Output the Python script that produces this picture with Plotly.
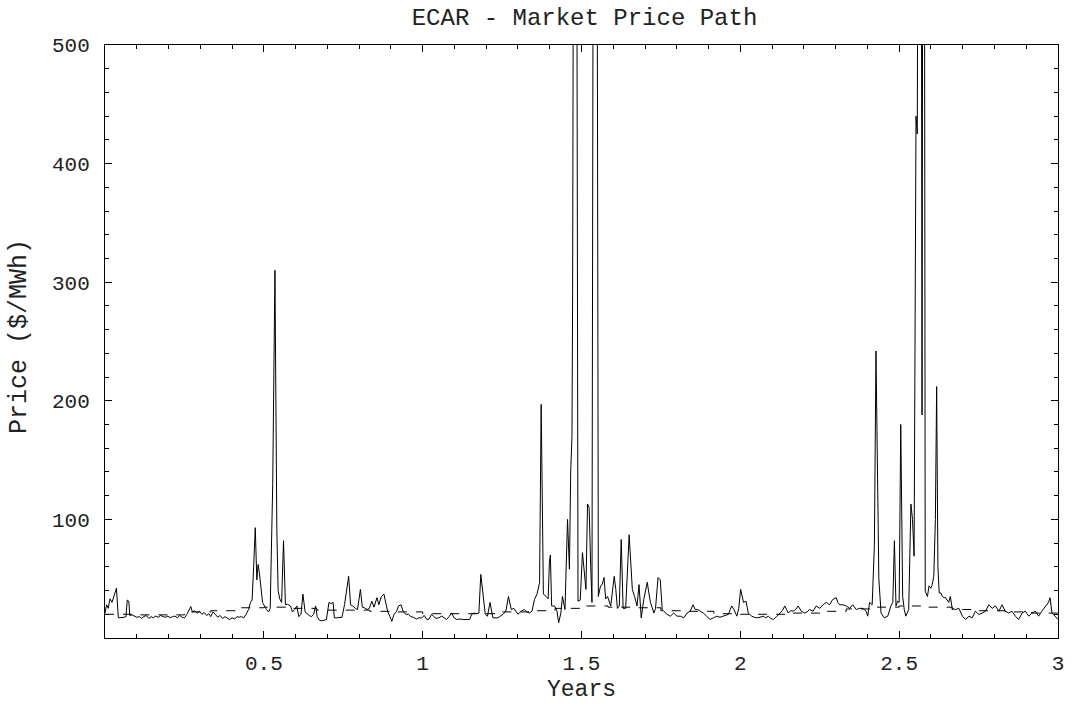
import plotly.graph_objects as go

# ---- data (time in years, price in $/MWh) ----
t_years = [
    0.000, 0.005, 0.010, 0.016, 0.022, 0.030, 0.036, 0.042, 0.050, 0.060, 0.066, 0.070, 0.075, 0.078, 0.085,
    0.093, 0.100, 0.108, 0.115, 0.122, 0.130, 0.138, 0.145, 0.152, 0.160, 0.168, 0.175, 0.183, 0.190, 0.198,
    0.205, 0.213, 0.220, 0.228, 0.235, 0.243, 0.250, 0.258, 0.265, 0.270, 0.275, 0.283, 0.290, 0.297, 0.305,
    0.312, 0.320, 0.327, 0.333, 0.340, 0.347, 0.355, 0.362, 0.370, 0.378, 0.385, 0.392, 0.400, 0.408, 0.415,
    0.422, 0.430, 0.437, 0.444, 0.452, 0.458, 0.463, 0.468, 0.473, 0.478, 0.482, 0.486, 0.490, 0.496, 0.502,
    0.508, 0.515, 0.520, 0.528, 0.535, 0.541, 0.545, 0.550, 0.556, 0.562, 0.568, 0.575, 0.584, 0.590, 0.597,
    0.604, 0.610, 0.617, 0.623, 0.630, 0.637, 0.643, 0.650, 0.657, 0.663, 0.668, 0.675, 0.682, 0.690, 0.697,
    0.705, 0.712, 0.718, 0.722, 0.730, 0.738, 0.746, 0.754, 0.762, 0.767, 0.773, 0.780, 0.788, 0.795, 0.804,
    0.810, 0.817, 0.825, 0.832, 0.840, 0.847, 0.856, 0.862, 0.870, 0.878, 0.884, 0.890, 0.897, 0.903, 0.910,
    0.918, 0.924, 0.932, 0.939, 0.947, 0.955, 0.963, 0.971, 0.980, 0.988, 0.997, 1.005, 1.013, 1.020, 1.028,
    1.035, 1.042, 1.050, 1.060, 1.068, 1.075, 1.083, 1.091, 1.099, 1.107, 1.115, 1.122, 1.130, 1.140, 1.148,
    1.154, 1.162, 1.170, 1.177, 1.183, 1.190, 1.197, 1.204, 1.212, 1.221, 1.229, 1.237, 1.245, 1.253, 1.262,
    1.270, 1.279, 1.287, 1.295, 1.300, 1.310, 1.320, 1.328, 1.336, 1.344, 1.352, 1.360, 1.368, 1.373, 1.380,
    1.389, 1.395, 1.399, 1.402, 1.406, 1.415, 1.423, 1.428, 1.435, 1.440, 1.448, 1.453, 1.456, 1.462, 1.466,
    1.470, 1.472, 1.476, 1.484, 1.489, 1.496, 1.503, 1.508, 1.514, 1.519, 1.524, 1.529, 1.533, 1.538, 1.548,
    1.553, 1.560, 1.565, 1.571, 1.576, 1.582, 1.592, 1.603, 1.608, 1.613, 1.619, 1.625, 1.631, 1.639, 1.650,
    1.660, 1.667, 1.675, 1.681, 1.688, 1.696, 1.707, 1.712, 1.717, 1.728, 1.733, 1.741, 1.748, 1.754, 1.760,
    1.769, 1.780, 1.790, 1.801, 1.811, 1.822, 1.832, 1.842, 1.851, 1.858, 1.866, 1.874, 1.884, 1.895, 1.905,
    1.915, 1.926, 1.936, 1.947, 1.955, 1.963, 1.968, 1.973, 1.980, 1.989, 1.995, 2.001, 2.010, 2.018, 2.025,
    2.036, 2.044, 2.051, 2.062, 2.072, 2.080, 2.088, 2.096, 2.104, 2.114, 2.124, 2.132, 2.140, 2.151, 2.158,
    2.166, 2.174, 2.182, 2.192, 2.203, 2.210, 2.218, 2.229, 2.239, 2.250, 2.260, 2.271, 2.281, 2.291, 2.302,
    2.307, 2.313, 2.323, 2.333, 2.344, 2.354, 2.365, 2.375, 2.386, 2.396, 2.401, 2.407, 2.415, 2.422, 2.427,
    2.432, 2.436, 2.443, 2.453, 2.464, 2.474, 2.480, 2.485, 2.490, 2.495, 2.500, 2.505, 2.511, 2.516, 2.521,
    2.530, 2.537, 2.542, 2.547, 2.553, 2.557, 2.561, 2.569, 2.572, 2.575, 2.579, 2.582, 2.589, 2.594, 2.600,
    2.604, 2.609, 2.614, 2.618, 2.622, 2.626, 2.631, 2.636, 2.641, 2.646, 2.651, 2.656, 2.661, 2.667, 2.677,
    2.688, 2.699, 2.709, 2.720, 2.730, 2.740, 2.751, 2.761, 2.772, 2.782, 2.793, 2.803, 2.814, 2.824, 2.834,
    2.845, 2.855, 2.866, 2.876, 2.887, 2.897, 2.908, 2.918, 2.929, 2.939, 2.949, 2.960, 2.970, 2.975, 2.981,
    2.991, 3.000,
]

price = [
    21, 28, 25, 33, 30, 38, 42, 17, 17, 17.5, 18, 32, 31, 19, 19.5,
    18.5, 17.5, 18, 16.5, 18, 19, 16.5, 18, 17, 18.5, 17.5, 19, 18, 17.5, 18.5,
    17, 18, 18.5, 17, 19, 17.5, 17, 20, 24, 26.5, 22, 23, 21, 22.5, 20,
    21.5, 19, 20.5, 18, 22, 20, 17.5, 19, 16.5, 18, 17, 15.5, 17, 16, 18,
    17.5, 18, 17, 20, 24, 30, 32, 60, 93, 49, 62, 55, 42, 30, 27,
    24, 22, 25, 130, 310, 90, 40, 33, 30, 82, 28, 28.5, 27, 22, 24,
    27, 18, 20, 37, 22, 20, 19, 18, 20, 27, 18, 15, 14.5, 15, 15.5,
    30, 29, 30, 17, 17, 17, 17.5, 28, 44, 52, 28, 27, 25, 24, 41,
    26, 25.5, 24, 25, 31, 26, 34, 28, 35, 37, 29, 22, 18, 14, 20,
    22.5, 27, 28, 22, 20, 20, 18, 17.5, 16, 17, 17, 19, 15.6, 16, 20,
    18, 16.5, 17, 18.4, 17, 15.6, 18, 21, 17, 15.6, 16, 15.6, 15.6, 15.6, 15.6,
    20, 21, 20.5, 21, 53.6, 35, 20, 18.4, 30, 17, 17, 17, 18.5, 20, 22.6,
    35, 24, 25, 22, 20, 22.6, 24, 22, 21, 22.6, 32.5, 37, 46.6, 197, 37,
    35, 33, 64, 70, 27, 27, 22.6, 12.8, 21, 35, 24, 79, 100, 58, 140,
    170, 290, 800, 800, 31, 32, 72, 55, 41, 113, 110, 60, 30, 800, 800,
    35, 44, 45, 51, 33, 35, 27, 52, 41, 25, 27, 83, 25, 25, 87,
    41, 35, 27, 45, 17, 32.5, 47, 38, 30, 21, 25, 51, 49, 24, 22.6,
    20, 18.4, 21, 18.4, 18.4, 17, 21, 22.6, 28, 24, 24, 22.6, 21, 18, 15.6,
    17, 18.4, 17.5, 18.4, 19, 20, 24, 27, 24, 18.4, 25, 41, 30, 31, 21,
    18.4, 17.5, 17, 17.5, 18.4, 17, 18.4, 16.5, 15.6, 18, 21, 23, 27, 21, 23,
    22.6, 24, 27, 22.6, 21, 22, 24, 22.6, 27, 25, 28, 30, 28, 32.5, 34,
    30, 28, 28, 27, 25, 28, 24, 25, 25, 22.6, 18.4, 30, 28, 78, 242,
    120, 50, 21, 17, 18.4, 27, 30, 82, 27, 31, 30, 180, 35, 24, 18.4,
    24, 113, 100, 69, 440, 425, 800, 800, 188, 800, 800, 39.5, 35, 44, 42,
    45, 52, 100, 212, 60, 38, 38, 35, 34, 34, 32, 30, 35, 25, 24,
    25, 18.4, 15.6, 18.4, 17, 22.6, 19.8, 21, 22.6, 28, 25, 27, 22.6, 28, 22.6,
    21, 22.6, 18.4, 15.6, 21, 22.6, 18.4, 21, 22.6, 18.4, 22.6, 27, 30, 34, 21,
    18.4, 15.6,
]

# monthly forward (expected) price, step curve
month_start = [m / 12 for m in range(37)]
fwd_price = [20, 19.5, 19.5, 22, 23, 25.5, 26, 25, 23.5, 23.5, 22.5, 22,
             20.5, 20.5, 20.5, 22, 23, 25, 27, 26, 25.5, 23, 22.5, 20.5,
             20, 20, 21, 22.5, 24.5, 26, 27, 26, 24, 23, 22, 21]
fwd_plot = fwd_price + [fwd_price[-1]]

x_tick_vals = [0.5, 1, 1.5, 2, 2.5, 3]
x_tick_text = ["0.5", "1", "1.5", "2", "2.5", "3"]
y_tick_vals = [100, 200, 300, 400, 500]
y_tick_text = ["100", "200", "300", "400", "500"]

FONT = "Liberation Mono, Courier New, monospace"

fig = go.Figure()
fig.add_trace(go.Scatter(x=month_start, y=fwd_plot, mode="lines", line_shape="hv",
                         line=dict(color="black", width=1, dash="9px,9px"), hoverinfo="skip"))
fig.add_trace(go.Scatter(x=t_years, y=price, mode="lines",
                         line=dict(color="black", width=1)))

axis_common = dict(showgrid=False, zeroline=False, showline=True, linecolor="black", linewidth=1,
                   mirror="allticks", ticks="inside", ticklen=7, tickwidth=1, tickcolor="black",
                   tickfont=dict(family=FONT, size=21, color="#222"))

fig.update_xaxes(range=[0, 3], tickmode="array", tickvals=x_tick_vals, ticktext=x_tick_text,
                 minor=dict(tickmode="array", tickvals=[i / 10 for i in range(31)], ticks="inside",
                            ticklen=4, tickcolor="black", tickwidth=1),
                 ticklabelstandoff=6, **axis_common)
fig.update_yaxes(range=[0, 500], tickmode="array", tickvals=y_tick_vals, ticktext=y_tick_text,
                 minor=dict(tickmode="array", tickvals=[20 * i for i in range(26)], ticks="inside",
                            ticklen=4, tickcolor="black", tickwidth=1),
                 ticklabelstandoff=10, **axis_common)

fig.update_layout(
    width=1073, height=708,
    margin=dict(l=105, r=9, t=45, b=70),
    plot_bgcolor="white", paper_bgcolor="white",
    showlegend=False,
    font=dict(family=FONT, size=21, color="#222"),
    title=dict(text="ECAR - Market Price Path", x=584.5 / 1073, xanchor="center",
               y=1 - 17 / 708, yanchor="middle", yref="container",
               font=dict(family=FONT, size=24, color="#222")),
    annotations=[
        dict(text="Years", xref="paper", yref="paper", x=0.5, y=-0.087,
             xanchor="center", yanchor="middle", showarrow=False,
             font=dict(family=FONT, size=23, color="#222")),
        dict(text="Price ($/MWh)", xref="paper", yref="paper", x=-0.089, y=0.508,
             xanchor="center", yanchor="middle", textangle=-90, showarrow=False,
             font=dict(family=FONT, size=25, color="#222")),
    ],
)

fig.write_html("out.html", config={"displayModeBar": False},
               post_script="document.body.style.margin='0px';")
